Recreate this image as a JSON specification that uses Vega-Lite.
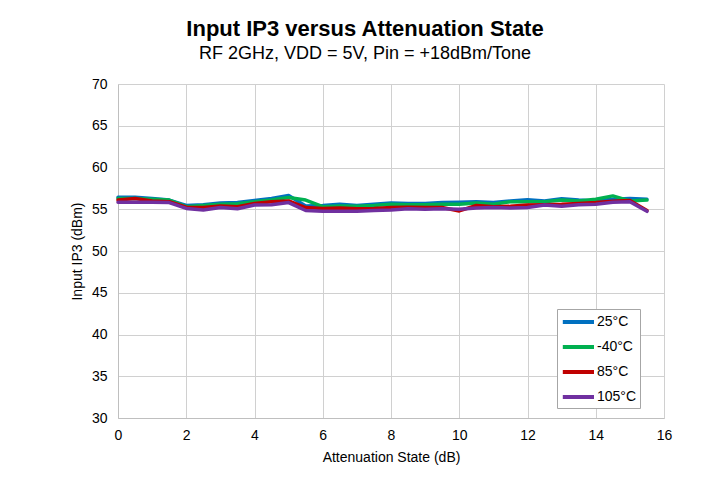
{
  "$schema": "https://vega.github.io/schema/vega-lite/v6.json",
  "autosize": {"type": "none"},
  "padding": {"left": 118, "top": 84, "right": 55, "bottom": 69},
  "width": 546,
  "height": 334,
  "background": "white",
  "title": {
    "text": "Input IP3 versus Attenuation State",
    "subtitle": "RF 2GHz, VDD = 5V, Pin = +18dBm/Tone",
    "anchor": "middle",
    "dx": -26,
    "offset": 13,
    "font": "Liberation Sans",
    "fontSize": 22,
    "fontWeight": "bold",
    "color": "#000000",
    "subtitleFont": "Liberation Sans",
    "subtitleFontSize": 18,
    "subtitleColor": "#000000",
    "subtitlePadding": 4
  },
  "datasets": {
    "iip3": [
      {"att": 0, "temp": "25°C", "iip3": 56.45}, {"att": 0.5, "temp": "25°C", "iip3": 56.45}, {"att": 1, "temp": "25°C", "iip3": 56.3}, {"att": 1.5, "temp": "25°C", "iip3": 56.1},
      {"att": 2, "temp": "25°C", "iip3": 55.45}, {"att": 2.5, "temp": "25°C", "iip3": 55.55}, {"att": 3, "temp": "25°C", "iip3": 55.75}, {"att": 3.5, "temp": "25°C", "iip3": 55.8},
      {"att": 4, "temp": "25°C", "iip3": 56.05}, {"att": 4.5, "temp": "25°C", "iip3": 56.3}, {"att": 5, "temp": "25°C", "iip3": 56.65}, {"att": 5.5, "temp": "25°C", "iip3": 55.4},
      {"att": 6, "temp": "25°C", "iip3": 55.45}, {"att": 6.5, "temp": "25°C", "iip3": 55.6}, {"att": 7, "temp": "25°C", "iip3": 55.45}, {"att": 7.5, "temp": "25°C", "iip3": 55.6},
      {"att": 8, "temp": "25°C", "iip3": 55.75}, {"att": 8.5, "temp": "25°C", "iip3": 55.7}, {"att": 9, "temp": "25°C", "iip3": 55.7}, {"att": 9.5, "temp": "25°C", "iip3": 55.8},
      {"att": 10, "temp": "25°C", "iip3": 55.85}, {"att": 10.5, "temp": "25°C", "iip3": 55.9}, {"att": 11, "temp": "25°C", "iip3": 55.8}, {"att": 11.5, "temp": "25°C", "iip3": 56.0},
      {"att": 12, "temp": "25°C", "iip3": 56.15}, {"att": 12.5, "temp": "25°C", "iip3": 56.0}, {"att": 13, "temp": "25°C", "iip3": 56.25}, {"att": 13.5, "temp": "25°C", "iip3": 56.1},
      {"att": 14, "temp": "25°C", "iip3": 56.0}, {"att": 14.5, "temp": "25°C", "iip3": 56.2}, {"att": 15, "temp": "25°C", "iip3": 56.3}, {"att": 15.5, "temp": "25°C", "iip3": 56.2},

      {"att": 0, "temp": "-40°C", "iip3": 56.3}, {"att": 0.5, "temp": "-40°C", "iip3": 56.3}, {"att": 1, "temp": "-40°C", "iip3": 56.2}, {"att": 1.5, "temp": "-40°C", "iip3": 56.1},
      {"att": 2, "temp": "-40°C", "iip3": 55.3}, {"att": 2.5, "temp": "-40°C", "iip3": 55.45}, {"att": 3, "temp": "-40°C", "iip3": 55.6}, {"att": 3.5, "temp": "-40°C", "iip3": 55.65},
      {"att": 4, "temp": "-40°C", "iip3": 55.9}, {"att": 4.5, "temp": "-40°C", "iip3": 56.1}, {"att": 5, "temp": "-40°C", "iip3": 56.4}, {"att": 5.5, "temp": "-40°C", "iip3": 56.1},
      {"att": 6, "temp": "-40°C", "iip3": 55.3}, {"att": 6.5, "temp": "-40°C", "iip3": 55.4}, {"att": 7, "temp": "-40°C", "iip3": 55.35}, {"att": 7.5, "temp": "-40°C", "iip3": 55.45},
      {"att": 8, "temp": "-40°C", "iip3": 55.6}, {"att": 8.5, "temp": "-40°C", "iip3": 55.55}, {"att": 9, "temp": "-40°C", "iip3": 55.55}, {"att": 9.5, "temp": "-40°C", "iip3": 55.6},
      {"att": 10, "temp": "-40°C", "iip3": 55.6}, {"att": 10.5, "temp": "-40°C", "iip3": 55.75}, {"att": 11, "temp": "-40°C", "iip3": 55.6}, {"att": 11.5, "temp": "-40°C", "iip3": 55.9},
      {"att": 12, "temp": "-40°C", "iip3": 55.9}, {"att": 12.5, "temp": "-40°C", "iip3": 55.9}, {"att": 13, "temp": "-40°C", "iip3": 56.1}, {"att": 13.5, "temp": "-40°C", "iip3": 56.0},
      {"att": 14, "temp": "-40°C", "iip3": 56.2}, {"att": 14.5, "temp": "-40°C", "iip3": 56.6}, {"att": 15, "temp": "-40°C", "iip3": 56.0}, {"att": 15.5, "temp": "-40°C", "iip3": 56.1},

      {"att": 0, "temp": "85°C", "iip3": 56.1}, {"att": 0.5, "temp": "85°C", "iip3": 56.3}, {"att": 1, "temp": "85°C", "iip3": 56.0}, {"att": 1.5, "temp": "85°C", "iip3": 55.9},
      {"att": 2, "temp": "85°C", "iip3": 55.25}, {"att": 2.5, "temp": "85°C", "iip3": 55.2}, {"att": 3, "temp": "85°C", "iip3": 55.4}, {"att": 3.5, "temp": "85°C", "iip3": 55.3},
      {"att": 4, "temp": "85°C", "iip3": 55.7}, {"att": 4.5, "temp": "85°C", "iip3": 55.9}, {"att": 5, "temp": "85°C", "iip3": 56.0}, {"att": 5.5, "temp": "85°C", "iip3": 55.2},
      {"att": 6, "temp": "85°C", "iip3": 55.1}, {"att": 6.5, "temp": "85°C", "iip3": 55.15}, {"att": 7, "temp": "85°C", "iip3": 55.05}, {"att": 7.5, "temp": "85°C", "iip3": 55.1},
      {"att": 8, "temp": "85°C", "iip3": 55.2}, {"att": 8.5, "temp": "85°C", "iip3": 55.25}, {"att": 9, "temp": "85°C", "iip3": 55.2}, {"att": 9.5, "temp": "85°C", "iip3": 55.2},
      {"att": 10, "temp": "85°C", "iip3": 54.8}, {"att": 10.5, "temp": "85°C", "iip3": 55.45}, {"att": 11, "temp": "85°C", "iip3": 55.3}, {"att": 11.5, "temp": "85°C", "iip3": 55.35},
      {"att": 12, "temp": "85°C", "iip3": 55.5}, {"att": 12.5, "temp": "85°C", "iip3": 55.55}, {"att": 13, "temp": "85°C", "iip3": 55.6}, {"att": 13.5, "temp": "85°C", "iip3": 55.7},
      {"att": 14, "temp": "85°C", "iip3": 55.8}, {"att": 14.5, "temp": "85°C", "iip3": 55.95}, {"att": 15, "temp": "85°C", "iip3": 56.05}, {"att": 15.5, "temp": "85°C", "iip3": 54.85},

      {"att": 0, "temp": "105°C", "iip3": 55.85}, {"att": 0.5, "temp": "105°C", "iip3": 55.85}, {"att": 1, "temp": "105°C", "iip3": 55.85}, {"att": 1.5, "temp": "105°C", "iip3": 55.8},
      {"att": 2, "temp": "105°C", "iip3": 55.1}, {"att": 2.5, "temp": "105°C", "iip3": 54.9}, {"att": 3, "temp": "105°C", "iip3": 55.2}, {"att": 3.5, "temp": "105°C", "iip3": 55.05},
      {"att": 4, "temp": "105°C", "iip3": 55.5}, {"att": 4.5, "temp": "105°C", "iip3": 55.55}, {"att": 5, "temp": "105°C", "iip3": 55.8}, {"att": 5.5, "temp": "105°C", "iip3": 54.85},
      {"att": 6, "temp": "105°C", "iip3": 54.75}, {"att": 6.5, "temp": "105°C", "iip3": 54.75}, {"att": 7, "temp": "105°C", "iip3": 54.75}, {"att": 7.5, "temp": "105°C", "iip3": 54.85},
      {"att": 8, "temp": "105°C", "iip3": 54.9}, {"att": 8.5, "temp": "105°C", "iip3": 55.05}, {"att": 9, "temp": "105°C", "iip3": 55.0}, {"att": 9.5, "temp": "105°C", "iip3": 55.05},
      {"att": 10, "temp": "105°C", "iip3": 55.0}, {"att": 10.5, "temp": "105°C", "iip3": 55.15}, {"att": 11, "temp": "105°C", "iip3": 55.2}, {"att": 11.5, "temp": "105°C", "iip3": 55.15},
      {"att": 12, "temp": "105°C", "iip3": 55.2}, {"att": 12.5, "temp": "105°C", "iip3": 55.5}, {"att": 13, "temp": "105°C", "iip3": 55.35}, {"att": 13.5, "temp": "105°C", "iip3": 55.55},
      {"att": 14, "temp": "105°C", "iip3": 55.6}, {"att": 14.5, "temp": "105°C", "iip3": 55.85}, {"att": 15, "temp": "105°C", "iip3": 55.9}, {"att": 15.5, "temp": "105°C", "iip3": 54.75}
    ]
  },
  "data": {"name": "iip3"},
  "mark": {"type": "line", "strokeWidth": 3.5, "strokeJoin": "round", "strokeCap": "round"},
  "encoding": {
    "x": {
      "field": "att", "type": "quantitative",
      "title": "Attenuation State (dB)",
      "scale": {"domain": [0, 16], "nice": false},
      "axis": {"values": [0, 2, 4, 6, 8, 10, 12, 14, 16], "format": "d", "labelPadding": 10, "titlePadding": 8, "labelFlush": false}
    },
    "y": {
      "field": "iip3", "type": "quantitative",
      "title": "Input IP3 (dBm)",
      "scale": {"domain": [30, 70], "nice": false, "zero": false},
      "axis": {"values": [30, 35, 40, 45, 50, 55, 60, 65, 70], "labelPadding": 11, "titlePadding": 7, "labelFlush": false}
    },
    "color": {
      "field": "temp", "type": "nominal",
      "sort": ["25°C", "-40°C", "85°C", "105°C"],
      "scale": {"domain": ["25°C", "-40°C", "85°C", "105°C"], "range": ["#0070C0", "#00B050", "#C00000", "#7030A0"]},
      "legend": {
        "title": null,
        "orient": "none",
        "legendX": 439,
        "legendY": 225,
        "symbolType": "M-0.9,0H3",
        "symbolStrokeWidth": 4,
        "symbolSize": 256,
        "symbolFillColor": "transparent",
        "labelFont": "Liberation Sans",
        "labelFontSize": 14,
        "labelColor": "#000000",
        "rowPadding": 7,
        "labelOffset": 17,
        "padding": 3,
        "strokeColor": "#a6a6a6",
        "fillColor": "white"
      }
    }
  },
  "config": {
    "view": {"stroke": null},
    "axis": {
      "labelFont": "Liberation Sans",
      "labelFontSize": 14,
      "labelColor": "#000000",
      "titleFont": "Liberation Sans",
      "titleFontSize": 14,
      "titleFontWeight": "normal",
      "titleColor": "#000000",
      "grid": true,
      "gridColor": "#d0d0d0",
      "gridWidth": 1,
      "domainColor": "#bfbfbf",
      "ticks": false
    }
  }
}
